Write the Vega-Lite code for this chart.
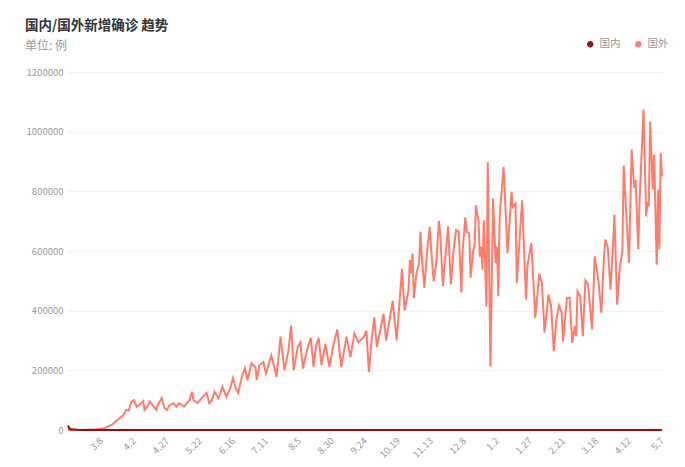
{
  "$schema": "https://vega.github.io/schema/vega-lite/v6.json",
  "width": 594,
  "height": 358,
  "autosize": {"type": "none"},
  "padding": {"left": 68, "top": 72, "right": 23, "bottom": 37},
  "background": "white",
  "config": {"font": "Noto Sans CJK SC", "view": {"stroke": null}},
  "title": {
    "text": "国内/国外新增确诊 趋势",
    "subtitle": "单位: 例",
    "anchor": "start",
    "frame": "group",
    "dx": -43,
    "dy": 28,
    "offset": 15,
    "fontSize": 13.5,
    "fontWeight": "bold",
    "color": "#333333",
    "subtitleColor": "#999999",
    "subtitleFontSize": 12,
    "subtitlePadding": 9
  },
  "datasets": {
    "w": [
      {"d":"2020-02-12","s":"国外","v":300},{"d":"2020-02-20","s":"国外","v":400},{"d":"2020-02-26","s":"国外","v":900},{"d":"2020-03-01","s":"国外","v":1800},{"d":"2020-03-05","s":"国外","v":2800},{"d":"2020-03-08","s":"国外","v":4000},{"d":"2020-03-11","s":"国外","v":7000},{"d":"2020-03-14","s":"国外","v":13000},{"d":"2020-03-16","s":"国外","v":17000},{"d":"2020-03-19","s":"国外","v":28000},{"d":"2020-03-22","s":"国外","v":39000},{"d":"2020-03-25","s":"国外","v":50000},{"d":"2020-03-27","s":"国外","v":67000},{"d":"2020-03-29","s":"国外","v":65000},{"d":"2020-03-31","s":"国外","v":95000},
      {"d":"2020-04-02","s":"国外","v":100000},{"d":"2020-04-04","s":"国外","v":78000},{"d":"2020-04-06","s":"国外","v":84000},{"d":"2020-04-09","s":"国外","v":97000},{"d":"2020-04-10","s":"国外","v":67000},{"d":"2020-04-12","s":"国外","v":78000},{"d":"2020-04-14","s":"国外","v":95000},{"d":"2020-04-16","s":"国外","v":84000},{"d":"2020-04-19","s":"国外","v":67000},{"d":"2020-04-20","s":"国外","v":84000},{"d":"2020-04-23","s":"国外","v":107000},{"d":"2020-04-25","s":"国外","v":74000},{"d":"2020-04-27","s":"国外","v":67000},{"d":"2020-04-29","s":"国外","v":84000},
      {"d":"2020-05-02","s":"国外","v":90000},{"d":"2020-05-04","s":"国外","v":78000},{"d":"2020-05-06","s":"国外","v":90000},{"d":"2020-05-10","s":"国外","v":78000},{"d":"2020-05-12","s":"国外","v":90000},{"d":"2020-05-14","s":"国外","v":100000},{"d":"2020-05-16","s":"国外","v":128000},{"d":"2020-05-17","s":"国外","v":100000},{"d":"2020-05-20","s":"国外","v":90000},{"d":"2020-05-22","s":"国外","v":100000},{"d":"2020-05-24","s":"国外","v":111000},{"d":"2020-05-27","s":"国外","v":124000},{"d":"2020-05-29","s":"国外","v":90000},{"d":"2020-05-31","s":"国外","v":100000},
      {"d":"2020-06-02","s":"国外","v":128000},{"d":"2020-06-05","s":"国外","v":107000},{"d":"2020-06-06","s":"国外","v":118000},{"d":"2020-06-08","s":"国外","v":145000},{"d":"2020-06-11","s":"国外","v":111000},{"d":"2020-06-14","s":"国外","v":140000},{"d":"2020-06-16","s":"国外","v":174000},{"d":"2020-06-18","s":"国外","v":140000},{"d":"2020-06-20","s":"国外","v":124000},{"d":"2020-06-23","s":"国外","v":184000},{"d":"2020-06-25","s":"国外","v":207000},{"d":"2020-06-27","s":"国外","v":167000},{"d":"2020-06-30","s":"国外","v":224000},
      {"d":"2020-07-03","s":"国外","v":211000},{"d":"2020-07-04","s":"国外","v":167000},{"d":"2020-07-06","s":"国外","v":217000},{"d":"2020-07-09","s":"国外","v":228000},{"d":"2020-07-11","s":"国外","v":189000},{"d":"2020-07-15","s":"国外","v":250000},{"d":"2020-07-16","s":"国外","v":233000},{"d":"2020-07-19","s":"国外","v":178000},{"d":"2020-07-22","s":"国外","v":313000},{"d":"2020-07-25","s":"国外","v":200000},{"d":"2020-07-28","s":"国外","v":267000},{"d":"2020-07-30","s":"国外","v":350000},
      {"d":"2020-08-01","s":"国外","v":200000},{"d":"2020-08-04","s":"国外","v":278000},{"d":"2020-08-06","s":"国外","v":294000},{"d":"2020-08-08","s":"国外","v":206000},{"d":"2020-08-11","s":"国外","v":267000},{"d":"2020-08-14","s":"国外","v":309000},{"d":"2020-08-16","s":"国外","v":211000},{"d":"2020-08-18","s":"国外","v":283000},{"d":"2020-08-20","s":"国外","v":309000},{"d":"2020-08-22","s":"国外","v":217000},{"d":"2020-08-25","s":"国外","v":289000},{"d":"2020-08-28","s":"国外","v":211000},{"d":"2020-08-31","s":"国外","v":283000},
      {"d":"2020-09-03","s":"国外","v":337000},{"d":"2020-09-06","s":"国外","v":211000},{"d":"2020-09-10","s":"国外","v":313000},{"d":"2020-09-13","s":"国外","v":244000},{"d":"2020-09-16","s":"国外","v":324000},{"d":"2020-09-19","s":"国外","v":294000},{"d":"2020-09-23","s":"国外","v":311000},{"d":"2020-09-25","s":"国外","v":333000},{"d":"2020-09-27","s":"国外","v":194000},{"d":"2020-09-29","s":"国外","v":300000},
      {"d":"2020-10-01","s":"国外","v":378000},{"d":"2020-10-03","s":"国外","v":278000},{"d":"2020-10-05","s":"国外","v":322000},{"d":"2020-10-08","s":"国外","v":389000},{"d":"2020-10-10","s":"国外","v":300000},{"d":"2020-10-15","s":"国外","v":433000},{"d":"2020-10-18","s":"国外","v":300000},{"d":"2020-10-22","s":"国外","v":540000},{"d":"2020-10-24","s":"国外","v":400000},{"d":"2020-10-27","s":"国外","v":470000},{"d":"2020-10-28","s":"国外","v":570000},{"d":"2020-10-29","s":"国外","v":526000},{"d":"2020-10-30","s":"国外","v":592000},{"d":"2020-10-31","s":"国外","v":442000},
      {"d":"2020-11-02","s":"国外","v":526000},{"d":"2020-11-04","s":"国外","v":559000},{"d":"2020-11-05","s":"国外","v":664000},{"d":"2020-11-06","s":"国外","v":581000},{"d":"2020-11-08","s":"国外","v":476000},{"d":"2020-11-10","s":"国外","v":598000},{"d":"2020-11-12","s":"国外","v":681000},{"d":"2020-11-13","s":"国外","v":614000},{"d":"2020-11-15","s":"国外","v":498000},{"d":"2020-11-17","s":"国外","v":559000},{"d":"2020-11-19","s":"国外","v":701000},{"d":"2020-11-20","s":"国外","v":659000},{"d":"2020-11-22","s":"国外","v":483000},{"d":"2020-11-24","s":"国外","v":587000},{"d":"2020-11-26","s":"国外","v":683000},{"d":"2020-11-28","s":"国外","v":487000},{"d":"2020-11-30","s":"国外","v":598000},
      {"d":"2020-12-02","s":"国外","v":670000},{"d":"2020-12-04","s":"国外","v":664000},{"d":"2020-12-06","s":"国外","v":461000},{"d":"2020-12-07","s":"国外","v":603000},{"d":"2020-12-09","s":"国外","v":712000},{"d":"2020-12-10","s":"国外","v":664000},{"d":"2020-12-12","s":"国外","v":659000},{"d":"2020-12-13","s":"国外","v":511000},{"d":"2020-12-15","s":"国外","v":603000},{"d":"2020-12-16","s":"国外","v":614000},{"d":"2020-12-17","s":"国外","v":753000},{"d":"2020-12-19","s":"国外","v":698000},{"d":"2020-12-20","s":"国外","v":581000},{"d":"2020-12-21","s":"国外","v":614000},{"d":"2020-12-22","s":"国外","v":537000},{"d":"2020-12-23","s":"国外","v":703000},{"d":"2020-12-25","s":"国外","v":414000},{"d":"2020-12-26","s":"国外","v":898000},{"d":"2020-12-28","s":"国外","v":214000},{"d":"2020-12-30","s":"国外","v":776000},
      {"d":"2021-01-01","s":"国外","v":559000},{"d":"2021-01-02","s":"国外","v":614000},{"d":"2021-01-03","s":"国外","v":448000},{"d":"2021-01-04","s":"国外","v":714000},{"d":"2021-01-07","s":"国外","v":881000},{"d":"2021-01-10","s":"国外","v":592000},{"d":"2021-01-13","s":"国外","v":798000},{"d":"2021-01-14","s":"国外","v":748000},{"d":"2021-01-16","s":"国外","v":759000},{"d":"2021-01-17","s":"国外","v":492000},{"d":"2021-01-21","s":"国外","v":770000},{"d":"2021-01-24","s":"国外","v":437000},{"d":"2021-01-25","s":"国外","v":548000},{"d":"2021-01-28","s":"国外","v":627000},{"d":"2021-01-31","s":"国外","v":376000},
      {"d":"2021-02-03","s":"国外","v":524000},{"d":"2021-02-05","s":"国外","v":493000},{"d":"2021-02-07","s":"国外","v":326000},{"d":"2021-02-10","s":"国外","v":454000},{"d":"2021-02-12","s":"国外","v":415000},{"d":"2021-02-14","s":"国外","v":264000},{"d":"2021-02-16","s":"国外","v":370000},{"d":"2021-02-18","s":"国外","v":417000},{"d":"2021-02-20","s":"国外","v":393000},{"d":"2021-02-21","s":"国外","v":297000},{"d":"2021-02-24","s":"国外","v":443000},{"d":"2021-02-26","s":"国外","v":443000},{"d":"2021-02-28","s":"国外","v":292000},
      {"d":"2021-03-02","s":"国外","v":348000},{"d":"2021-03-03","s":"国外","v":314000},{"d":"2021-03-04","s":"国外","v":465000},{"d":"2021-03-06","s":"国外","v":448000},{"d":"2021-03-08","s":"国外","v":314000},{"d":"2021-03-10","s":"国外","v":501000},{"d":"2021-03-12","s":"国外","v":487000},{"d":"2021-03-15","s":"国外","v":337000},{"d":"2021-03-17","s":"国外","v":582000},{"d":"2021-03-18","s":"国外","v":554000},{"d":"2021-03-20","s":"国外","v":493000},{"d":"2021-03-22","s":"国外","v":393000},{"d":"2021-03-24","s":"国外","v":577000},{"d":"2021-03-25","s":"国外","v":638000},{"d":"2021-03-27","s":"国外","v":610000},{"d":"2021-03-29","s":"国外","v":470000},{"d":"2021-03-31","s":"国外","v":632000},
      {"d":"2021-04-01","s":"国外","v":722000},{"d":"2021-04-03","s":"国外","v":420000},{"d":"2021-04-05","s":"国外","v":545000},{"d":"2021-04-07","s":"国外","v":600000},{"d":"2021-04-08","s":"国外","v":886000},{"d":"2021-04-10","s":"国外","v":719000},{"d":"2021-04-12","s":"国外","v":560000},{"d":"2021-04-14","s":"国外","v":940000},{"d":"2021-04-16","s":"国外","v":811000},{"d":"2021-04-17","s":"国外","v":839000},{"d":"2021-04-19","s":"国外","v":605000},{"d":"2021-04-20","s":"国外","v":767000},{"d":"2021-04-23","s":"国外","v":1074000},{"d":"2021-04-25","s":"国外","v":716000},{"d":"2021-04-26","s":"国外","v":763000},{"d":"2021-04-27","s":"国外","v":750000},{"d":"2021-04-28","s":"国外","v":1034000},{"d":"2021-04-30","s":"国外","v":806000},
      {"d":"2021-05-01","s":"国外","v":923000},{"d":"2021-05-03","s":"国外","v":554000},{"d":"2021-05-04","s":"国外","v":806000},{"d":"2021-05-05","s":"国外","v":605000},{"d":"2021-05-06","s":"国外","v":929000},{"d":"2021-05-07","s":"国外","v":850000}
    ],
    "c": [
      {"d":"2020-02-12","s":"国内","v":15152},{"d":"2020-02-13","s":"国内","v":5090},{"d":"2020-02-14","s":"国内","v":2641},{"d":"2020-02-16","s":"国内","v":2048},{"d":"2020-02-18","s":"国内","v":1749},{"d":"2020-02-19","s":"国内","v":820},{"d":"2020-02-21","s":"国内","v":397},{"d":"2020-02-25","s":"国内","v":406},{"d":"2020-03-01","s":"国内","v":202},{"d":"2020-03-05","s":"国内","v":143},{"d":"2020-03-10","s":"国内","v":24},{"d":"2020-04-12","s":"国内","v":108},{"d":"2020-07-30","s":"国内","v":127},{"d":"2021-01-14","s":"国内","v":144},{"d":"2021-05-07","s":"国内","v":10}
    ]
  },
  "encoding": {
    "x": {
      "field": "d",
      "type": "temporal",
      "timeUnit": "utcyearmonthdate",
      "title": null,
      "scale": {"domain": [{"year": 2020, "month": 2, "date": 12, "utc": true}, {"year": 2021, "month": 5, "date": 7, "utc": true}]},
      "axis": {
        "values": [
          {"year": 2020, "month": 3, "date": 8, "utc": true},
          {"year": 2020, "month": 4, "date": 2, "utc": true},
          {"year": 2020, "month": 4, "date": 27, "utc": true},
          {"year": 2020, "month": 5, "date": 22, "utc": true},
          {"year": 2020, "month": 6, "date": 16, "utc": true},
          {"year": 2020, "month": 7, "date": 11, "utc": true},
          {"year": 2020, "month": 8, "date": 5, "utc": true},
          {"year": 2020, "month": 8, "date": 30, "utc": true},
          {"year": 2020, "month": 9, "date": 24, "utc": true},
          {"year": 2020, "month": 10, "date": 19, "utc": true},
          {"year": 2020, "month": 11, "date": 13, "utc": true},
          {"year": 2020, "month": 12, "date": 8, "utc": true},
          {"year": 2021, "month": 1, "date": 2, "utc": true},
          {"year": 2021, "month": 1, "date": 27, "utc": true},
          {"year": 2021, "month": 2, "date": 21, "utc": true},
          {"year": 2021, "month": 3, "date": 18, "utc": true},
          {"year": 2021, "month": 4, "date": 12, "utc": true},
          {"year": 2021, "month": 5, "date": 7, "utc": true}
        ],
        "labelExpr": "utcFormat(datum.value, '%-m.%-d')",
        "labelAngle": -45,
        "labelAlign": "right",
        "labelBaseline": "middle",
        "labelColor": "#999999",
        "labelFontSize": 9.5,
        "labelPadding": 9,
        "labelOverlap": false,
        "labelFlush": false,
        "ticks": false,
        "grid": false,
        "domain": true,
        "domainColor": "#dddddd",
        "encode": {"labels": {"update": {"angle": {"value": -45}, "align": {"value": "right"}, "baseline": {"value": "middle"}}}}
      }
    },
    "y": {
      "field": "v",
      "type": "quantitative",
      "title": null,
      "scale": {"domain": [0, 1200000], "nice": false},
      "axis": {
        "values": [0, 200000, 400000, 600000, 800000, 1000000, 1200000],
        "format": "d",
        "labelColor": "#999999",
        "labelFontSize": 9.5,
        "labelPadding": 5,
        "ticks": false,
        "domain": false,
        "grid": true,
        "gridColor": "#f2f2f2"
      }
    },
    "color": {
      "field": "s",
      "type": "nominal",
      "scale": {"domain": ["国内", "国外"], "range": ["#9b0b0b", "#ff7c6a"]},
      "legend": {
        "title": null,
        "orient": "none",
        "direction": "horizontal",
        "legendX": 517,
        "legendY": -33,
        "symbolType": "circle",
        "symbolSize": 12,
        "symbolStrokeWidth": 3,
        "labelColor": "#999999",
        "labelFontSize": 10.5,
        "labelOffset": 4,
        "columnPadding": 9
      }
    }
  },
  "layer": [
    {"data": {"name": "w"}, "mark": {"type": "line", "strokeWidth": 2}},
    {"data": {"name": "c"}, "mark": {"type": "line", "strokeWidth": 2}}
  ]
}
